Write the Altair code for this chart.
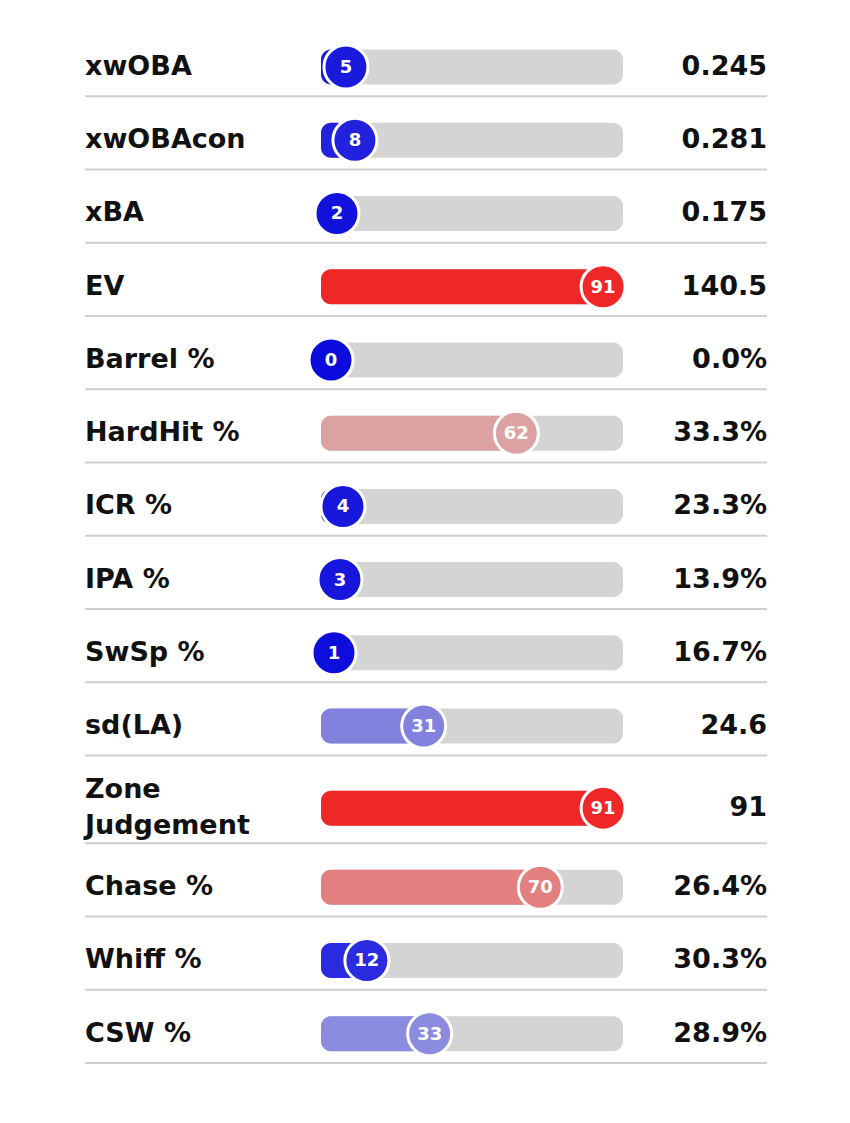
import altair as alt
import pandas as pd

labels = ["xwOBA", "xwOBAcon", "xBA", "EV", "Barrel %", "HardHit %", "ICR %",
          "IPA %", "SwSp %", "sd(LA)", "Zone\nJudgement", "Chase %", "Whiff %", "CSW %"]
percentiles = [5, 8, 2, 91, 0, 62, 4, 3, 1, 31, 91, 70, 12, 33]
values = ["0.245", "0.281", "0.175", "140.5", "0.0%", "33.3%", "23.3%",
          "13.9%", "16.7%", "24.6", "91", "26.4%", "30.3%", "28.9%"]

# row layout derived from the number of lines in each label
line_counts = [lab.count("\n") + 1 for lab in labels]
heights = [1 + 0.2 * (n - 1) for n in line_counts]
tops = []
acc = 0.0
for h in heights:
    tops.append(acc)
    acc += h
total = acc

PLOT_H = 1040
unit = PLOT_H / total
LINE_H = 36
half_bar = 17.5 / unit

df = pd.DataFrame({
    "label": labels,
    "pct": percentiles,
    "value": values,
    "top": tops,
    "h": heights,
    "lines": line_counts,
})
df["center"] = df["top"] + 0.6 * df["h"]
df["bottom"] = df["top"] + df["h"]
df["label_y"] = df["center"] - (df["lines"] - 1) / 2 * (LINE_H / unit)

ys = alt.Scale(domain=[0, total], range=[0, PLOT_H], nice=False, zero=False)
xs = alt.Scale(domain=[0, 100], range=[331, 630], nice=False, zero=False)
cs = alt.Scale(
    domain=[0, 4, 12, 31, 33, 50, 62, 70, 91, 100],
    range=["#0b0bdc", "#1818dc", "#2a2ae0", "#8282de", "#8b8be0", "#c8c8cc",
           "#dca2a2", "#e28080", "#ef2727", "#ee1c1c"],
    interpolate="rgb",
)

base = alt.Chart(df).transform_calculate(
    y0=f"datum.center - {half_bar}", y1=f"datum.center + {half_bar}"
)

FONT = "DejaVu Sans"

seps = base.mark_rule(color="#cfcfcf", strokeWidth=2).encode(
    y=alt.Y("bottom:Q", scale=ys, axis=None),
    x=alt.value(85), x2=alt.value(767),
)

track = base.mark_rect(color="#d4d4d4", cornerRadius=10).encode(
    y=alt.Y("y0:Q", scale=ys, axis=None), y2="y1:Q",
    x=alt.value(321), x2=alt.value(623),
)

fill = base.mark_rect(cornerRadius=10).encode(
    y=alt.Y("y0:Q", scale=ys, axis=None), y2="y1:Q",
    x=alt.X("pct:Q", scale=xs, axis=None), x2=alt.value(321),
    color=alt.Color("pct:Q", scale=cs, legend=None),
)

dots = base.mark_circle(size=1936, opacity=1, stroke="white", strokeWidth=3).encode(
    y=alt.Y("center:Q", scale=ys, axis=None),
    x=alt.X("pct:Q", scale=xs, axis=None),
    color=alt.Color("pct:Q", scale=cs, legend=None),
)

dot_text = base.mark_text(color="white", fontSize=18, fontWeight="bold", font=FONT,
                          baseline="middle", align="center", dy=1).encode(
    y=alt.Y("center:Q", scale=ys, axis=None),
    x=alt.X("pct:Q", scale=xs, axis=None),
    text="pct:Q",
)

label_text = base.mark_text(align="left", baseline="middle", fontSize=27, fontWeight="bold",
                            font=FONT, lineBreak="\n", lineHeight=LINE_H, color="#111111").encode(
    y=alt.Y("label_y:Q", scale=ys, axis=None),
    x=alt.value(85),
    text="label:N",
)

value_text = base.mark_text(align="right", baseline="middle", fontSize=27, fontWeight="bold",
                            font=FONT, color="#111111").encode(
    y=alt.Y("center:Q", scale=ys, axis=None),
    x=alt.value(767),
    text="value:N",
)

chart = alt.layer(seps, track, fill, dots, dot_text, label_text, value_text).properties(
    width=850, height=PLOT_H,
    padding={"left": 0, "top": 23, "right": 0, "bottom": 60},
    autosize="none",
    background="white",
).configure_view(stroke=None)

chart.save("out.html", embed_options={"renderer": "svg", "actions": False})
